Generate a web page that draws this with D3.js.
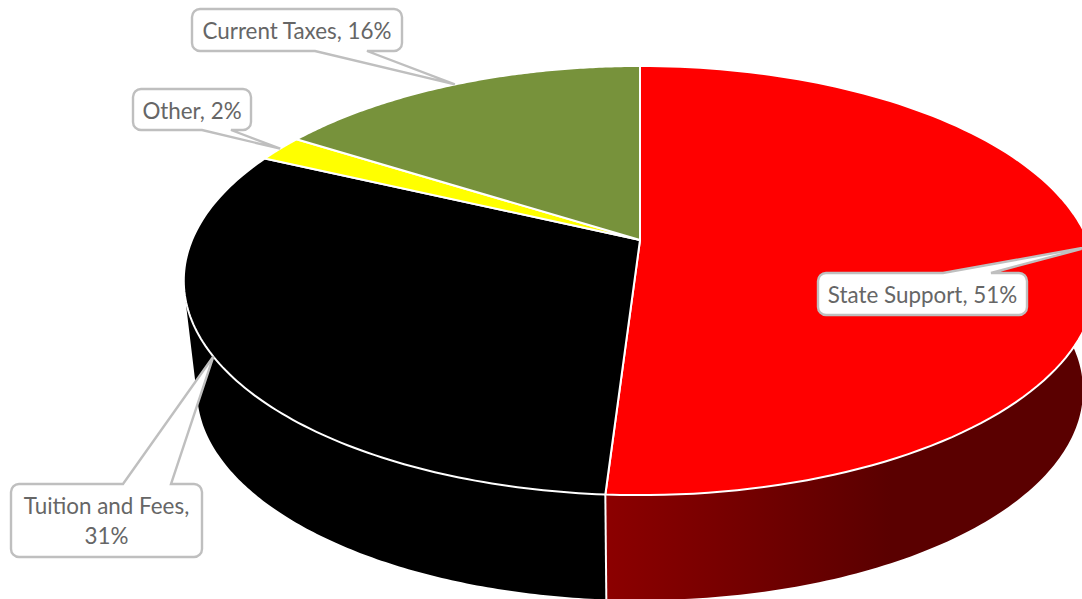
<!DOCTYPE html>
<html>
<head>
<meta charset="utf-8">
<script src="https://cdn.jsdelivr.net/npm/d3@7"></script>
<style>
html, body { margin: 0; padding: 0; background: #fff; }
svg { display: block; }
text { font-family: Lato, "Open Sans", sans-serif; font-size: 22.4px; fill: #666; }
</style>
</head>
<body>
<svg id="chart" width="1082" height="599"></svg>
<script>
// Revenue shares, clockwise from twelve o'clock
const categories = ["State Support", "Tuition and Fees", "Other", "Current Taxes"];
const shares = [51, 31, 2, 16];
const sliceColors = ["#ff0000", "#000000", "#ffff00", "#77923b"];
const labelLines = [["State Support, 51%"], ["Tuition and Fees,", "31%"], ["Other, 2%"], ["Current Taxes, 16%"]];

// Projection of a disc tilted towards the viewer
const topFace = { x: 640, y: 240, rx: 448, ry: 206.9, k: -0.189 };
const baseFace = { x: 640, y: 351, rx: 435, ry: 202, k: -0.189 };
const project = (face, a) => {
  const u = Math.sin(a), v = -Math.cos(a), w = 1 + face.k * v;
  return [face.x + face.rx * u / w, face.y + face.ry * v / w];
};

const arcs = d3.pie().sort(null).value(d => d)(shares);
const TAU = 2 * Math.PI;
const svg = d3.select("#chart");
const line = d3.line();
const sample = (face, a0, a1) =>
  d3.range(0, 121).map(i => project(face, a0 + (a1 - a0) * i / 120));

const seam = arcs[0].endAngle;

// Horizontal shading for the red side wall
const grad = svg.append("defs").append("linearGradient").attr("id", "wall")
  .attr("gradientUnits", "userSpaceOnUse")
  .attr("x1", project(topFace, seam)[0]).attr("x2", 1082).attr("y1", 0).attr("y2", 0);
grad.append("stop").attr("offset", 0).attr("stop-color", "#8c0000");
grad.append("stop").attr("offset", 0.6).attr("stop-color", "#5a0000");
grad.append("stop").attr("offset", 1).attr("stop-color", "#5a0000");

// Side walls: only the part of each slice facing the viewer
const walls = svg.append("g");
arcs.slice(0, 2).forEach((d, i) => {
  const a0 = i === 0 ? Math.max(d.startAngle, TAU / 4 - 0.25) : d.startAngle;
  const a1 = i === 1 ? d.endAngle - 0.7 : d.endAngle;
  const path = sample(topFace, a0, a1).concat(sample(baseFace, a1, a0));
  walls.append("path")
    .attr("d", line(path) + "Z")
    .attr("fill", i === 0 ? "url(#wall)" : sliceColors[i]);
});

// Seam between the two visible walls
walls.append("path")
  .attr("d", line([project(topFace, seam), project(baseFace, seam)]))
  .attr("stroke", "#fff").attr("stroke-width", 2).attr("fill", "none");

// Top faces
const faces = svg.append("g");
arcs.forEach((d, i) => {
  const path = [[topFace.x, topFace.y]].concat(sample(topFace, d.startAngle, d.endAngle));
  faces.append("path")
    .attr("d", line(path) + "Z")
    .attr("fill", sliceColors[i])
    .attr("stroke", "#fff").attr("stroke-width", 2).attr("stroke-linejoin", "round");
});

// Callouts: rounded box with a wedge running to the middle of the slice's rim
const boxes = [
  { x: 818, y: 273, w: 209, h: 42, gap: [125, 173], wedge: "top" },
  { x: 11, y: 484, w: 191, h: 73, gap: [112, 160], wedge: "top" },
  { x: 133, y: 89, w: 118, h: 41, gap: [69, 98], wedge: "bottom" },
  { x: 192, y: 9, w: 210, h: 42, gap: [123, 175], wedge: "bottom" }
];
const callouts = svg.append("g");
arcs.forEach((d, i) => {
  const b = boxes[i], r = 8;
  const tip = project(topFace, (d.startAngle + d.endAngle) / 2);
  const p = d3.path();
  p.moveTo(b.x + r, b.y);
  if (b.wedge === "top") {
    p.lineTo(b.x + b.gap[0], b.y);
    p.lineTo(tip[0], tip[1]);
    p.lineTo(b.x + b.gap[1], b.y);
  }
  p.lineTo(b.x + b.w - r, b.y);
  p.arcTo(b.x + b.w, b.y, b.x + b.w, b.y + r, r);
  p.lineTo(b.x + b.w, b.y + b.h - r);
  p.arcTo(b.x + b.w, b.y + b.h, b.x + b.w - r, b.y + b.h, r);
  if (b.wedge === "bottom") {
    p.lineTo(b.x + b.gap[1], b.y + b.h);
    p.lineTo(tip[0], tip[1]);
    p.lineTo(b.x + b.gap[0], b.y + b.h);
  }
  p.lineTo(b.x + r, b.y + b.h);
  p.arcTo(b.x, b.y + b.h, b.x, b.y + b.h - r, r);
  p.lineTo(b.x, b.y + r);
  p.arcTo(b.x, b.y, b.x + r, b.y, r);
  p.closePath();
  callouts.append("path").attr("d", p.toString())
    .attr("fill", "#fff").attr("stroke", "#bfbfbf").attr("stroke-width", 2.4);
  const t = callouts.append("text").attr("text-anchor", "middle");
  labelLines[i].forEach((s, j) => {
    t.append("tspan")
      .attr("x", b.x + b.w / 2)
      .attr("y", b.y + 29.5 + j * 30)
      .text(s);
  });
});
</script>
</body>
</html>
